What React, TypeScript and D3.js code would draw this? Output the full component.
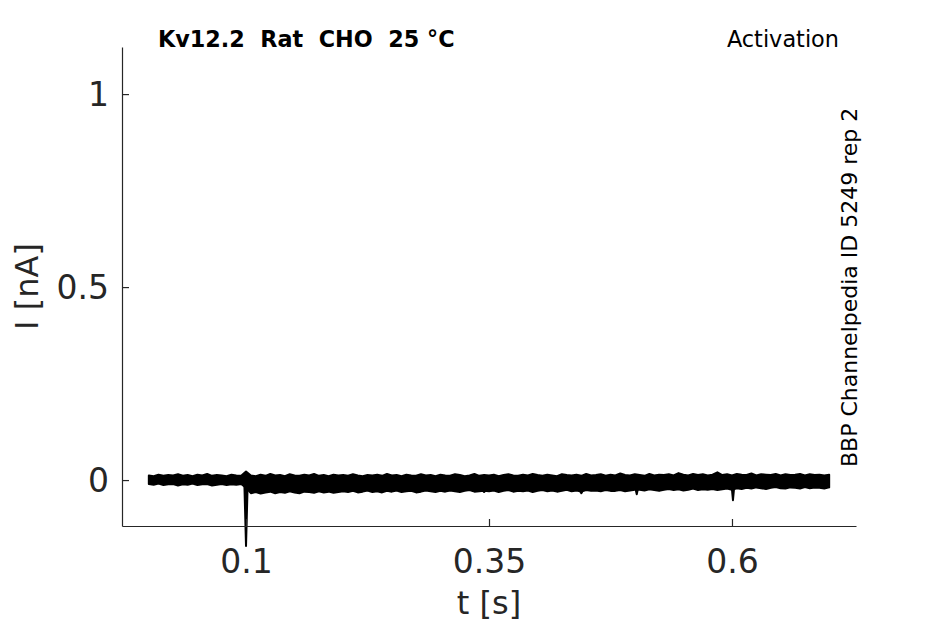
//@ts-nocheck
import * as d3 from "d3";
import { useEffect, useRef } from "react";

// sampling grid of the envelope (s)
const sampleStep = 0.005;

// upper edge of the overlaid sweeps (nA), one value per sample, 0 .. 0.7 s
const upperEnv = [
  0.012, 0.010, 0.014, 0.011, 0.013, 0.012, 0.015, 0.011, 0.013, 0.010,
  0.014, 0.012, 0.016, 0.011, 0.013, 0.012, 0.010, 0.014, 0.012, 0.011,
  0.022,
  0.012, 0.010, 0.014, 0.011, 0.016, 0.012, 0.013, 0.010, 0.015, 0.012,
  0.011, 0.014, 0.012, 0.016, 0.011, 0.013, 0.010, 0.014, 0.012, 0.013,
  0.011, 0.015, 0.012, 0.010, 0.013, 0.012, 0.014, 0.011, 0.016, 0.012,
  0.013, 0.010, 0.014, 0.012, 0.011, 0.015, 0.012, 0.013, 0.010, 0.014,
  0.012, 0.011, 0.015, 0.013, 0.010, 0.012, 0.016, 0.011, 0.013, 0.012,
  0.014, 0.010, 0.013, 0.015, 0.012, 0.011, 0.014, 0.012, 0.016, 0.013,
  0.011, 0.014, 0.012, 0.010, 0.015, 0.013, 0.012, 0.014, 0.011, 0.016,
  0.012, 0.013, 0.015, 0.011, 0.014, 0.012, 0.017, 0.013, 0.012, 0.015,
  0.013, 0.011, 0.016, 0.012, 0.014, 0.013, 0.015, 0.012, 0.018, 0.014,
  0.012, 0.016, 0.013, 0.015, 0.012, 0.014, 0.020, 0.013, 0.015, 0.012,
  0.016, 0.014, 0.013, 0.017, 0.012, 0.015, 0.014, 0.013, 0.016, 0.012,
  0.015, 0.013, 0.014, 0.016, 0.012, 0.015, 0.013, 0.014, 0.012, 0.014,
];

// lower edge of the overlaid sweeps (nA)
const lowerEnv = [
  -0.010, -0.012, -0.009, -0.013, -0.011, -0.010, -0.014, -0.011, -0.012, -0.009,
  -0.013, -0.011, -0.010, -0.014, -0.012, -0.010, -0.013, -0.011, -0.012, -0.010,
  -0.020,
  -0.034, -0.031, -0.035, -0.032, -0.030, -0.034, -0.031, -0.033, -0.029, -0.032,
  -0.034, -0.030, -0.031, -0.033, -0.029, -0.032, -0.030, -0.033, -0.031, -0.029,
  -0.031, -0.028, -0.032, -0.030, -0.027, -0.031, -0.029, -0.032, -0.028, -0.030,
  -0.027, -0.031, -0.029, -0.028, -0.032, -0.030, -0.027, -0.029, -0.031, -0.028,
  -0.030, -0.027, -0.029, -0.031, -0.028, -0.026, -0.030, -0.029, -0.028, -0.029,
  -0.027, -0.031, -0.028, -0.026, -0.030, -0.028, -0.029, -0.027, -0.031, -0.028,
  -0.026, -0.029, -0.027, -0.030, -0.028, -0.025, -0.029, -0.027, -0.030, -0.026,
  -0.028, -0.027, -0.029, -0.026, -0.028, -0.028, -0.026, -0.029, -0.027, -0.025,
  -0.025, -0.027, -0.024, -0.026, -0.028, -0.025, -0.023, -0.026, -0.024, -0.027,
  -0.025, -0.022, -0.026, -0.024, -0.025, -0.023, -0.026, -0.024, -0.022, -0.025,
  -0.021, -0.023, -0.020, -0.022, -0.019, -0.021, -0.023, -0.020, -0.018, -0.021,
  -0.022, -0.019, -0.020, -0.022, -0.018, -0.021, -0.019, -0.020, -0.022, -0.019,
  -0.020,
];

// short downward transients (s, nA)
const spikeTimes = [0.1, 0.345, 0.445, 0.502, 0.601];
const spikeMins = [-0.171, -0.031, -0.034, -0.037, -0.052];

const xTicks = [0.1, 0.35, 0.6];
const yTicks = [0, 0.5, 1];

const title = "Kv12.2  Rat  CHO  25 °C";
const protocol = "Activation";
const source = "BBP Channelpedia ID 5249 rep 2";

export default function App() {
  const svgRef = useRef(null);

  useEffect(() => {
    document.body.style.margin = "0";
    const width = 945;
    const height = 624;
    const margin = { left: 122, right: 89, top: 47, bottom: 98 };
    const axisColor = "#262626";
    const font = "DejaVu Sans";

    const svg = d3.select(svgRef.current);
    svg.selectAll("*").remove();

    const x = d3.scaleLinear().domain([-0.0276, 0.7276]).range([margin.left, width - margin.right]);
    const y = d3.scaleLinear().domain([-0.119, 1.122]).range([height - margin.bottom, margin.top]);

    const n = Math.min(upperEnv.length, lowerEnv.length);
    const env = d3.range(n).map(i => ({ t: i * sampleStep, hi: upperEnv[i], lo: lowerEnv[i] }));

    // envelope band
    const band = d3.area()
      .x(d => x(d.t))
      .y0(d => y(d.lo))
      .y1(d => y(d.hi));
    svg.append("path")
      .attr("d", band(env))
      .attr("fill", "#000")
      .attr("stroke", "#000")
      .attr("stroke-width", 2)
      .attr("stroke-linejoin", "round");

    // transients
    const lowAt = t => lowerEnv[Math.min(n - 1, Math.round(t / sampleStep))];
    const spikeLine = d3.line().x(d => x(d[0])).y(d => y(d[1]));
    spikeTimes.forEach((t, i) => {
      const w = i === 0 ? 0.0018 : 0.001;
      const base = i === 0 ? 0 : lowAt(t);
      svg.append("path")
        .attr("d", spikeLine([[t - w, base], [t, spikeMins[i]], [t + w, base]]))
        .attr("fill", "#000")
        .attr("stroke", "#000")
        .attr("stroke-width", 2)
        .attr("stroke-linejoin", "round");
    });

    // axes
    const xAxis = svg.append("g")
      .attr("transform", `translate(0,${height - margin.bottom})`)
      .call(d3.axisBottom(x).tickValues(xTicks).tickSizeInner(-7).tickSizeOuter(0).tickPadding(24).tickFormat(d3.format("")));
    const yAxis = svg.append("g")
      .attr("transform", `translate(${margin.left},0)`)
      .call(d3.axisLeft(y).tickValues(yTicks).tickSizeInner(-7).tickSizeOuter(0).tickPadding(13).tickFormat(d3.format("")));

    [xAxis, yAxis].forEach(g => {
      g.select(".domain").attr("stroke", axisColor).attr("stroke-width", 1.2);
      g.selectAll(".tick line").attr("stroke", axisColor).attr("stroke-width", 1.2);
      g.selectAll(".tick text")
        .attr("fill", axisColor)
        .style("font-family", font)
        .style("font-size", "33px");
    });
    yAxis.selectAll(".tick text").attr("dy", "0.36em");

    // axis labels
    svg.append("text")
      .attr("x", (margin.left + width - margin.right) / 2)
      .attr("y", 614)
      .attr("text-anchor", "middle")
      .attr("fill", axisColor)
      .style("font-family", font)
      .style("font-size", "32px")
      .text("t [s]");
    svg.append("text")
      .attr("transform", `translate(38,${(margin.top + height - margin.bottom) / 2}) rotate(-90)`)
      .attr("text-anchor", "middle")
      .attr("fill", axisColor)
      .style("font-family", font)
      .style("font-size", "32px")
      .text("I [nA]");

    // annotations
    svg.append("text")
      .attr("x", 158)
      .attr("y", 47)
      .attr("fill", "#000")
      .style("font-family", font)
      .style("font-size", "22.3px")
      .style("font-weight", "bold")
      .style("white-space", "pre")
      .text(title);
    svg.append("text")
      .attr("x", 839)
      .attr("y", 47)
      .attr("text-anchor", "end")
      .attr("fill", "#000")
      .style("font-family", font)
      .style("font-size", "22.4px")
      .text(protocol);
    svg.append("text")
      .attr("transform", `translate(857,467) rotate(-90)`)
      .attr("fill", "#000")
      .style("font-family", font)
      .style("font-size", "22px")
      .text(source);
  }, []);

  return (
    <svg
      ref={svgRef}
      width={945}
      height={624}
      style={{ position: "absolute", left: 0, top: 0, background: "#fff" }}
    />
  );
}
